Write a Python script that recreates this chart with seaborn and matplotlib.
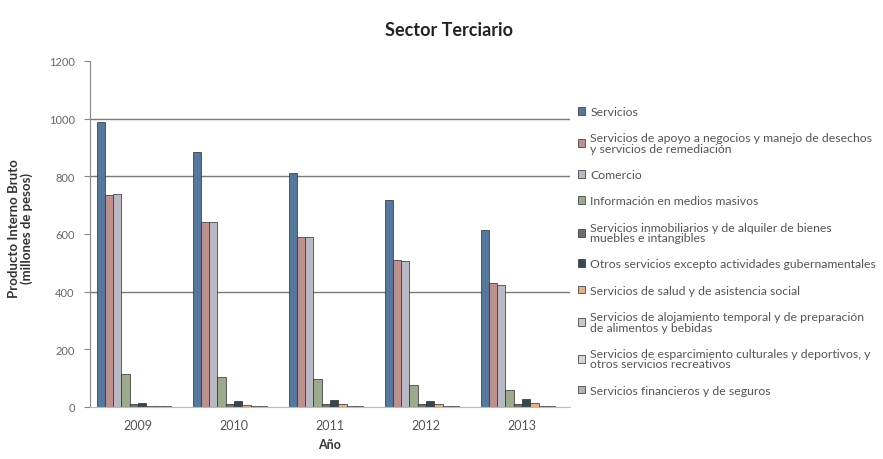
import numpy as np
import pandas as pd
import seaborn as sns
import matplotlib.pyplot as plt

# categorias y valores (millones de pesos)
anios = ["2009", "2010", "2011", "2012", "2013"]
sectores = [
    "Servicios",
    "Servicios de apoyo a negocios y manejo de desechos\ny servicios de remediación",
    "Comercio",
    "Información en medios masivos",
    "Servicios inmobiliarios y de alquiler de bienes\nmuebles e intangibles",
    "Otros servicios excepto actividades gubernamentales",
    "Servicios de salud y de asistencia social",
    "Servicios de alojamiento temporal y de preparación\nde alimentos y bebidas",
    "Servicios de esparcimiento culturales y deportivos, y\notros servicios recreativos",
    "Servicios financieros y de seguros",
]
servicios = [988, 884, 811, 717, 614]
apoyo = [735, 641, 590, 510, 431]
comercio = [738, 642, 588, 508, 422]
informacion = [114, 103, 96, 78, 60]
inmobiliarios = [12, 12, 12, 11, 12]
otros = [14, 20, 24, 22, 28]
salud = [4, 6, 10, 10, 13]
alojamiento = [3, 3, 3, 3, 3]
esparcimiento = [2, 2, 2, 2, 2]
financieros = [1, 1, 1, 1, 1]

colores = ["#4a78a8", "#c48a88", "#b9b6c6", "#9cae88", "#6e6e72",
           "#2f4a58", "#eab37a", "#c9c9c9", "#d6d6d6", "#b4b4b4"]

series = [servicios, apoyo, comercio, informacion, inmobiliarios,
          otros, salud, alojamiento, esparcimiento, financieros]
filas = []
for nombre, vals in zip(sectores, series):
    for a, v in zip(anios, vals):
        filas.append({"Año": a, "Sector": nombre, "PIB": v})
df = pd.DataFrame(filas)

sns.set_style("white")
plt.rcParams["font.family"] = ["Lato", "DejaVu Sans"]

fig = plt.figure(figsize=(8.83, 4.60), dpi=100)
ax = fig.add_axes([90 / 883, 1 - 408 / 460, 480 / 883, 346 / 460])

sns.barplot(data=df, x="Año", y="PIB", hue="Sector", palette=colores,
            width=0.86, gap=0, edgecolor="#2b2b2b", linewidth=0.5, ax=ax,
            legend=True)

ax.set_ylim(0, 1200)
ax.set_yticks([0, 200, 400, 600, 800, 1000, 1200])
ax.set_yticklabels(["0", "200", "400", "600", "800", "1000", "1200"])
ax.grid(axis="y", color="#7a7a7a", linewidth=1.0)
ax.set_axisbelow(True)
# en la imagen solo se distinguen las lineas de 400, 800 y 1000
for linea, val in zip(ax.yaxis.get_gridlines(), ax.get_yticks()):
    if val not in (400, 800, 1000):
        linea.set_visible(False)

ax.tick_params(axis="y", length=4, color="#888888", labelsize=8,
               labelcolor="#666666", pad=7, left=True)
ax.tick_params(axis="x", length=0, labelsize=9, labelcolor="#555555", pad=9)
sns.despine(ax=ax, top=True, right=True)
ax.spines["left"].set_color("#888888")
ax.spines["bottom"].set_color("#bbbbbb")
ax.set_xlabel("Año", fontsize=9, fontweight="bold", color="#333333", labelpad=5)
ax.set_ylabel("Producto Interno Bruto\n(millones de pesos)", fontsize=9.5,
              fontweight="bold", color="#333333", linespacing=1.1)
ax.yaxis.set_label_coords(-0.118, 0.52)

handles, labels = ax.get_legend_handles_labels()
ax.get_legend().remove()
leg = fig.legend(handles, labels, loc="upper left",
                 bbox_to_anchor=(578 / 883, 1 - 107 / 460), frameon=False,
                 fontsize=8.8, handlelength=0.6, handleheight=0.6,
                 handletextpad=0.4, labelspacing=1.25, borderpad=0,
                 borderaxespad=0)
for t in leg.get_texts():
    t.set_color("#555555")
    t.set_linespacing(0.95)

fig.text(449 / 883, 1 - 30 / 460, "Sector Terciario", ha="center", va="center",
         fontsize=13, fontweight="bold", color="#222222")

fig.savefig("out.png", dpi=100)
